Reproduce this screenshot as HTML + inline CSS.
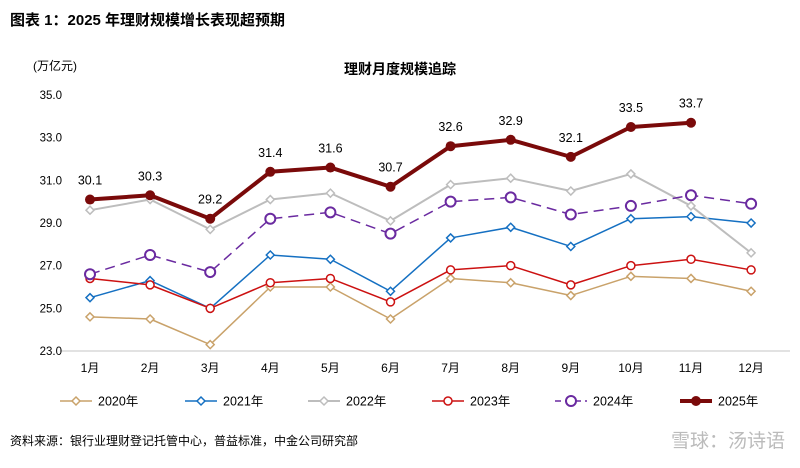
<!DOCTYPE html>
<html><head><meta charset="utf-8"><style>
body{margin:0;background:#fff;width:800px;height:463px;overflow:hidden;font-family:"Liberation Sans","Noto Sans CJK SC",sans-serif;}
svg text{font-family:"Liberation Sans","Noto Sans CJK SC",sans-serif;}
</style></head><body>
<svg id="c" width="800" height="463">
<text x="10" y="25" font-size="15" font-weight="bold" fill="#000">图表 1：2025 年理财规模增长表现超预期</text>
<text x="33" y="70" font-size="12" fill="#000">(万亿元)</text>
<text x="400" y="74" font-size="14" font-weight="bold" text-anchor="middle" fill="#000">理财月度规模追踪</text>
<line x1="60" y1="351" x2="790" y2="351" stroke="#d9d9d9" stroke-width="1.5"/>
<g id="yt"></g><g id="xt"></g><g id="series"></g><g id="legend"></g>
<text x="10" y="445" font-size="12" fill="#000">资料来源：银行业理财登记托管中心，普益标准，中金公司研究部</text>
<text x="785" y="447" font-size="19" text-anchor="end" fill="#bbb">雪球：汤诗语</text>
</svg>
<script>
const months=["1月","2月","3月","4月","5月","6月","7月","8月","9月","10月","11月","12月"];
const yTicks=[23,25,27,29,31,33,35];
const s2020=[24.6,24.5,23.3,26.0,26.0,24.5,26.4,26.2,25.6,26.5,26.4,25.8];
const s2021=[25.5,26.3,25.0,27.5,27.3,25.8,28.3,28.8,27.9,29.2,29.3,29.0];
const s2022=[29.6,30.1,28.7,30.1,30.4,29.1,30.8,31.1,30.5,31.3,29.8,27.6];
const s2023=[26.4,26.1,25.0,26.2,26.4,25.3,26.8,27.0,26.1,27.0,27.3,26.8];
const s2024=[26.6,27.5,26.7,29.2,29.5,28.5,30.0,30.2,29.4,29.8,30.3,29.9];
const s2025=[30.1,30.3,29.2,31.4,31.6,30.7,32.6,32.9,32.1,33.5,33.7];
const names=["2020年","2021年","2022年","2023年","2024年","2025年"];
const NS="http://www.w3.org/2000/svg";
function X(i){return 90+i*60.1;}
function Y(v){return 351-(v-23)*21.333;}
function mk(t,a,p){const e=document.createElementNS(NS,t);for(const k in a)e.setAttribute(k,a[k]);p.appendChild(e);return e;}
const yt=document.getElementById('yt'),xt=document.getElementById('xt'),sg=document.getElementById('series'),lg=document.getElementById('legend');
yTicks.forEach(v=>{const t=mk('text',{x:62,y:Y(v)+4,'font-size':11.5,'text-anchor':'end',fill:'#000'},yt);t.textContent=v.toFixed(1);

});
months.forEach((m,i)=>{const t=mk('text',{x:X(i),y:372,'font-size':12,'text-anchor':'middle',fill:'#000'},xt);t.textContent=m;

});
const cfg=[
{d:s2020,c:"#c9a26a",w:1.5,m:"dia",dash:""},
{d:s2021,c:"#1570c2",w:1.5,m:"dia",dash:""},
{d:s2022,c:"#bdbdbd",w:2,m:"dia",dash:""},
{d:s2023,c:"#cc1111",w:1.5,m:"circ",dash:""},
{d:s2024,c:"#6a2aa0",w:1.5,m:"circ5",dash:"10,6"},
{d:s2025,c:"#7a0a0a",w:4,m:"fill",dash:""}];
function marker(p,x,y,c,m,g){
 let e;
 if(m=="dia"){e=mk('polygon',{points:`${x},${y-4} ${x+4},${y} ${x},${y+4} ${x-4},${y}`,fill:'#fff',stroke:c,'stroke-width':1.5},g);}
 else if(m=="circ"){e=mk('circle',{cx:x,cy:y,r:4,fill:'#fff',stroke:c,'stroke-width':1.5},g);}
 else if(m=="circ5"){e=mk('circle',{cx:x,cy:y,r:5,fill:'#fff',stroke:c,'stroke-width':2},g);}
 else {e=mk('circle',{cx:x,cy:y,r:5,fill:c},g);}
 return e;
}
cfg.forEach((s,k)=>{
 const g=mk('g',{},sg);
 
 
 const pts=s.d.map((v,i)=>X(i)+','+Y(v)).join(' ');
 const pl=mk('polyline',{points:pts,fill:'none',stroke:s.c,'stroke-width':s.w,'stroke-dasharray':s.dash,'stroke-linejoin':'round'},g);
 
 
 s.d.forEach((v,i)=>{const e=marker(null,X(i),Y(v),s.c,s.m,g);
  
  
  if(k==5){const t=mk('text',{x:X(i),y:Y(v)-15,'font-size':12.5,'text-anchor':'middle',fill:'#000'},g);t.textContent=v.toFixed(1);
   
   }
 });
 const lx=[60,185,308,432,555,680][k],ly=401;
 const le=mk('g',{},lg);
 
 
 mk('line',{x1:lx,y1:ly,x2:lx+32,y2:ly,stroke:s.c,'stroke-width':s.w,'stroke-dasharray':s.dash?'6,4':''},le);
 marker(null,lx+16,ly,s.c,s.m,le);
 const t=mk('text',{x:lx+38,y:ly+4.5,'font-size':12.5,fill:'#000'},le);t.textContent=names[k];
});
</script>
</body></html>
